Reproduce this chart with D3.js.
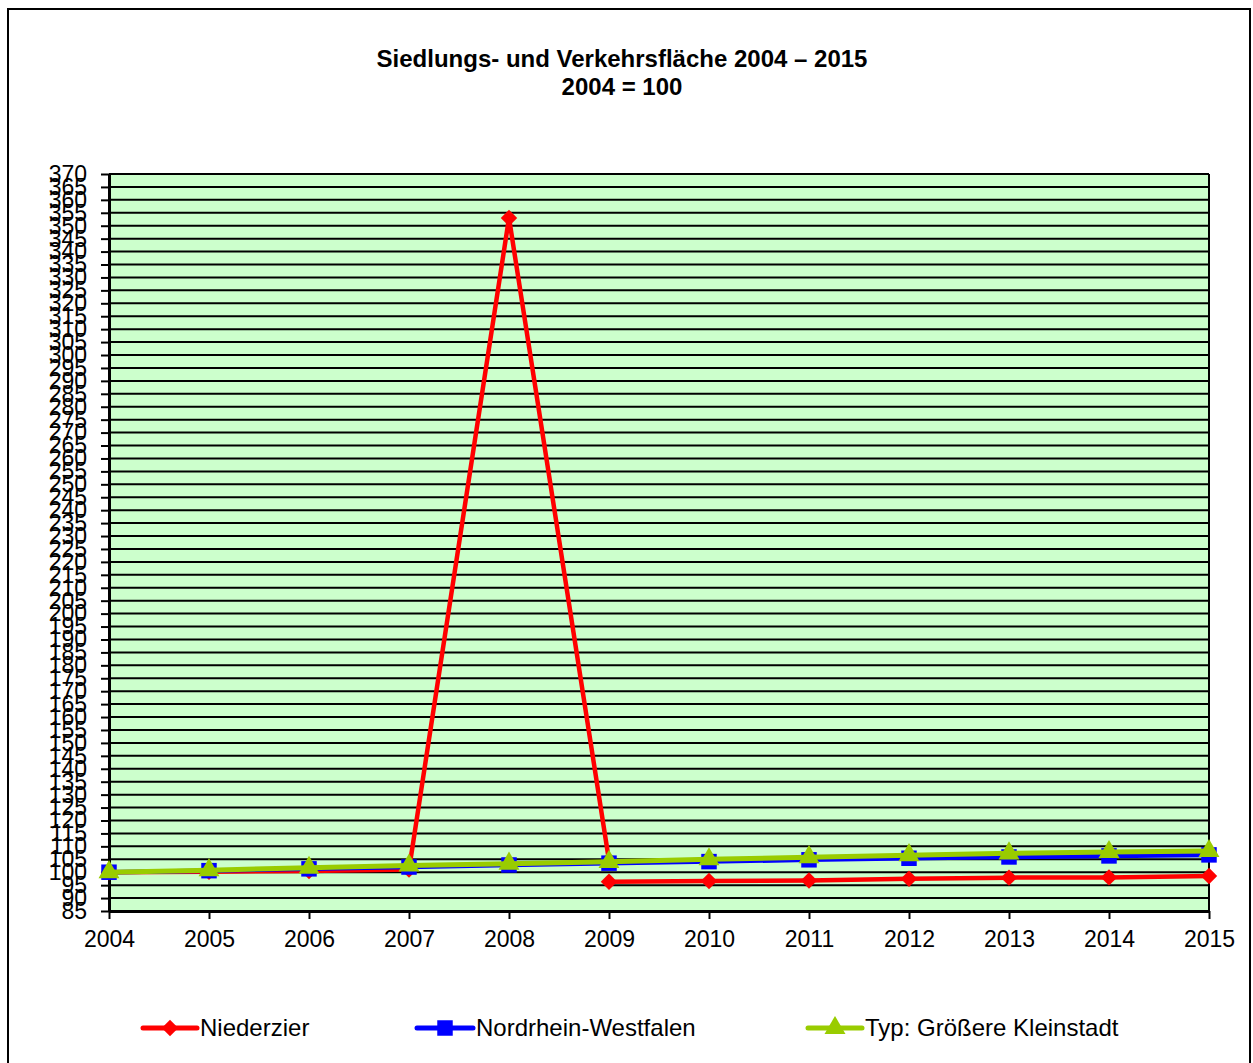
<!DOCTYPE html>
<html>
<head>
<meta charset="utf-8">
<script src="https://cdn.jsdelivr.net/npm/d3@7"></script>
<style>
  body { margin: 0; background: #fff; }
  text { font-family: "Liberation Sans", Arial, sans-serif; }
</style>
</head>
<body>
<div id="chart"></div>
<script>
const width = 1253;
const height = 1063;

// data (2004 = 100)
const years = ['2004','2005','2006','2007','2008','2009','2010','2011','2012','2013','2014','2015'];
const niederzier = [100, 100.2, 100.5, 101, 353, 104.5, null, null, null, null, null, null];
const niederzierNeu = [null, null, null, null, null, 96.3, 96.6, 96.8, 97.5, 97.9, 98.0, 98.5];
const nrw = [100, 100.6, 101.3, 102.0, 102.8, 103.5, 104.1, 104.8, 105.4, 105.9, 106.3, 106.7];
const kleinstadt = [100, 100.8, 101.7, 102.6, 103.3, 104.0, 105.0, 105.8, 106.6, 107.3, 107.8, 108.2];
const yTicks = d3.range(85, 371, 5);

const plot = {left: 109, right: 1209, top: 174, bottom: 911};

const svg = d3.select('#chart')
  .append('svg')
  .attr('width', width)
  .attr('height', height);

// outer chart border (runs past the bottom edge)
svg.append('rect')
  .attr('x', 8).attr('y', 9)
  .attr('width', 1242).attr('height', 1100)
  .attr('fill', 'none')
  .attr('stroke', '#000')
  .attr('stroke-width', 2);

// title
svg.append('text')
  .attr('x', 622).attr('y', 67)
  .attr('text-anchor', 'middle')
  .style('font-size', '24px').style('font-weight', 'bold')
  .text('Siedlungs- und Verkehrsfläche 2004 – 2015');
svg.append('text')
  .attr('x', 622).attr('y', 95)
  .attr('text-anchor', 'middle')
  .style('font-size', '24px').style('font-weight', 'bold')
  .text('2004 = 100');

const x = d3.scalePoint()
  .domain(years)
  .range([plot.left, plot.right]);

const y = d3.scaleLinear()
  .domain([85, 370])
  .range([plot.bottom, plot.top]);

// plot background
svg.append('rect')
  .attr('x', plot.left).attr('y', plot.top)
  .attr('width', plot.right - plot.left)
  .attr('height', plot.bottom - plot.top)
  .attr('fill', '#CCFFCC');

// horizontal grid lines
svg.append('g')
  .selectAll('line')
  .data(yTicks)
  .join('line')
  .attr('x1', plot.left).attr('x2', plot.right)
  .attr('y1', d => y(d)).attr('y2', d => y(d))
  .attr('stroke', '#000')
  .attr('stroke-width', 2);

// right border of plot
svg.append('line')
  .attr('x1', plot.right).attr('x2', plot.right)
  .attr('y1', plot.top).attr('y2', plot.bottom)
  .attr('stroke', '#000').attr('stroke-width', 2);

// y axis
const yAxis = svg.append('g')
  .attr('transform', `translate(${plot.left},0)`)
  .call(d3.axisLeft(y).tickValues(yTicks).tickSize(8).tickPadding(14).tickSizeOuter(0));
yAxis.select('.domain').attr('stroke-width', 3);
yAxis.selectAll('.tick line').attr('stroke-width', 2);
yAxis.selectAll('.tick text')
  .style('font-size', '23px')
  .attr('fill', '#000')
  .attr('font-family', null);

// x axis
const xAxis = svg.append('g')
  .attr('transform', `translate(0,${plot.bottom})`)
  .call(d3.axisBottom(x).tickSize(8).tickPadding(12).tickSizeOuter(0));
xAxis.select('.domain').attr('stroke-width', 3);
xAxis.selectAll('.tick line').attr('stroke-width', 2);
xAxis.selectAll('.tick text')
  .style('font-size', '23px')
  .attr('fill', '#000')
  .attr('font-family', null);

const series = [
  {name: 'Niederzier', values: niederzier, color: '#FF0000', shape: 'diamond', lw: 4.5},
  {name: null, values: niederzierNeu, color: '#FF0000', shape: 'diamond', lw: 4.5},
  {name: 'Nordrhein-Westfalen', values: nrw, color: '#0000FF', shape: 'square', lw: 4.5},
  {name: 'Typ: Größere Kleinstadt', values: kleinstadt, color: '#99CC00', shape: 'triangle', lw: 5}
];

const symbols = {
  diamond: d3.symbol().type(d3.symbolSquare).size(135),
  square: d3.symbol().type(d3.symbolSquare).size(240),
  triangle: d3.symbol().type(d3.symbolTriangle).size(190)
};

function markerTransform(shape, cx, cy) {
  return shape === 'diamond'
    ? `translate(${cx},${cy}) rotate(45)`
    : `translate(${cx},${cy})`;
}

const line = d3.line()
  .defined(d => d.v !== null)
  .x(d => x(d.year))
  .y(d => y(d.v));

series.forEach(function(s) {
  const pts = years.map((yr, i) => ({year: yr, v: s.values[i]}));
  const g = svg.append('g');
  g.append('path')
    .datum(pts)
    .attr('d', line)
    .attr('fill', 'none')
    .attr('stroke', s.color)
    .attr('stroke-width', s.lw)
    .attr('stroke-linejoin', 'round');
  g.selectAll('path.marker')
    .data(pts.filter(d => d.v !== null))
    .join('path')
    .classed('marker', true)
    .attr('d', symbols[s.shape]())
    .attr('transform', d => markerTransform(s.shape, x(d.year), y(d.v)))
    .attr('fill', s.color);
});

// legend
const legendItems = [
  {name: 'Niederzier', color: '#FF0000', shape: 'diamond', x0: 143, x1: 197},
  {name: 'Nordrhein-Westfalen', color: '#0000FF', shape: 'square', x0: 417, x1: 473},
  {name: 'Typ: Größere Kleinstadt', color: '#99CC00', shape: 'triangle', x0: 808, x1: 862}
];
const legendY = 1028;
const legend = svg.append('g');
legendItems.forEach(function(d) {
  legend.append('line')
    .attr('x1', d.x0).attr('x2', d.x1)
    .attr('y1', legendY).attr('y2', legendY)
    .attr('stroke', d.color)
    .attr('stroke-width', 5)
    .attr('stroke-linecap', 'round');
  legend.append('path')
    .attr('d', symbols[d.shape]())
    .attr('transform', markerTransform(d.shape, (d.x0 + d.x1) / 2, legendY))
    .attr('fill', d.color);
  legend.append('text')
    .attr('x', d.x1 + 3)
    .attr('y', legendY + 8)
    .style('font-size', '24px')
    .text(d.name);
});
</script>
</body>
</html>
